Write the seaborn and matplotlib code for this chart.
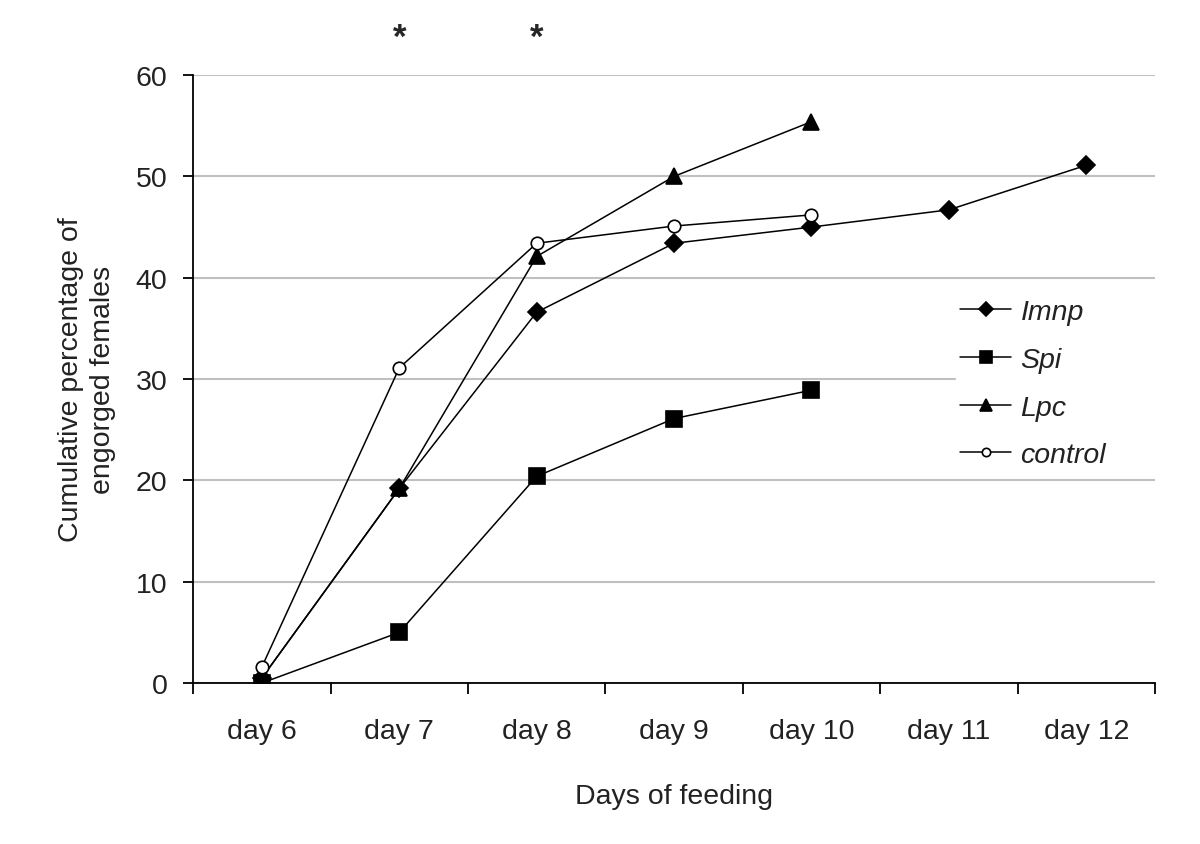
import matplotlib
matplotlib.use("Agg")
import matplotlib.pyplot as plt
import seaborn as sns

# categories and series
days = ["day 6", "day 7", "day 8", "day 9", "day 10", "day 11", "day 12"]
imnp = [0.5, 19.2, 36.6, 43.4, 45.0, 46.7, 51.1]
spi = [0.0, 5.0, 20.4, 26.1, 28.9]
lpc = [0.5, 19.2, 42.1, 50.0, 55.4]
control = [1.6, 31.1, 43.4, 45.1, 46.2]
signif_days = ["day 7", "day 8"]

sns.set_theme(style="white")
plt.rcParams['font.family'] = ['Liberation Sans', 'DejaVu Sans']
txt = "#222222"
fs = 20.5

fig = plt.figure(figsize=(12, 8.45), dpi=100)
ax = fig.add_axes([0.161, 0.1905, 0.8015, 0.7195])

series = [
    ("Imnp", imnp, "D", "black", 9, 7),
    ("Spi", spi, "s", "black", 11, 9),
    ("Lpc", lpc, "^", "black", 11, 9),
    ("control", control, "o", "white", 9, 6),
]
for name, vals, mk, face, ms, _ in series:
    x = list(range(len(vals)))
    sns.lineplot(x=x, y=vals, ax=ax, color="black", linewidth=1.1,
                 marker=mk, markersize=ms, markerfacecolor=face,
                 markeredgecolor="black", markeredgewidth=1.2,
                 label=name, zorder=3)

ax.set_xlim(-0.5, len(days) - 0.5)
ax.set_ylim(0, 60)
ax.set_yticks(range(0, 61, 10))
ax.yaxis.grid(True, color="#c0c0c0", linewidth=1.5)
ax.set_axisbelow(True)

# boundary ticks (Excel style), labels centred on categories
ax.set_xticks([i - 0.5 for i in range(len(days) + 1)])
ax.set_xticklabels([])
ax.set_xticks(range(len(days)), minor=True)
ax.set_xticklabels(days, minor=True)
ax.tick_params(axis="x", which="major", bottom=True, direction="out", length=8,
               width=1.3, color="black")
ax.tick_params(axis="x", which="minor", bottom=True, length=0, pad=25,
               labelsize=fs, labelcolor=txt)
ax.tick_params(axis="y", left=True, direction="out", length=7.5, width=1.3, color="black",
               labelsize=fs, labelcolor=txt, pad=11)

for s in ["top", "right"]:
    ax.spines[s].set_visible(False)
for s in ["left", "bottom"]:
    ax.spines[s].set_color("black")
    ax.spines[s].set_linewidth(1.3)

ax.set_xlabel("Days of feeding", fontsize=fs, labelpad=28, color=txt)
ax.set_ylabel("Cumulative percentage of\nengorged females", fontsize=fs,
              labelpad=14, color=txt, linespacing=1.3)

# significance marks
for d in signif_days:
    ax.text(days.index(d), 63.7, "*", ha="center", va="center",
            fontsize=25, fontweight="bold", clip_on=False)

leg = ax.legend(loc="center", bbox_to_anchor=(0.793, 0.392, 0.207, 0.2), mode="expand",
                frameon=True, framealpha=1, edgecolor="white", fontsize=fs,
                handlelength=1.8, handletextpad=0.32, labelspacing=0.76,
                borderpad=0.15, borderaxespad=0)
for t in leg.get_texts():
    t.set_fontstyle("italic")
    t.set_color(txt)
for h, s in zip(leg.legend_handles, series):
    h.set_markersize(s[5])

fig.savefig("out.png", dpi=100, facecolor="white")
